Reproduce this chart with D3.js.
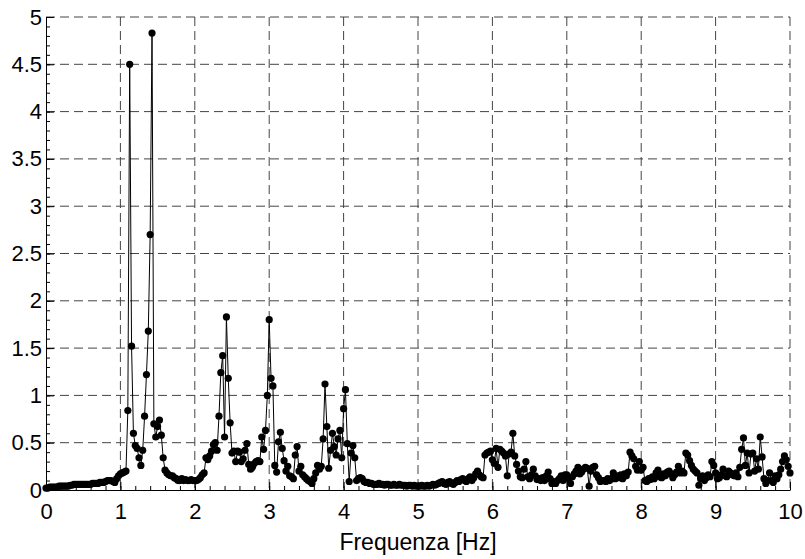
<!DOCTYPE html>
<html>
<head>
<meta charset="utf-8">
<script src="https://cdn.jsdelivr.net/npm/d3@7/dist/d3.min.js"></script>
<style>
  body { margin: 0; background: #fff; }
  text { font-family: "Liberation Sans", Arial, sans-serif; }
</style>
</head>
<body>
<div id="chart"></div>
<script>
// frequency step of the spectrum [Hz]
const freqStep = 0.025;

// amplitudes, one array per 1 Hz band (40 samples each)
const amp0 = [0.02,0.02,0.03,0.03,0.03,0.03,0.03,0.04,0.04,0.04,
              0.04,0.04,0.04,0.05,0.05,0.06,0.06,0.06,0.06,0.06,
              0.06,0.06,0.06,0.06,0.06,0.07,0.07,0.07,0.07,0.08,
              0.08,0.08,0.09,0.10,0.10,0.10,0.09,0.08,0.12,0.15];
const amp1 = [0.17,0.18,0.19,0.20,0.84,4.50,1.52,0.60,0.47,0.44,
              0.34,0.26,0.42,0.78,1.22,1.68,2.70,4.83,0.70,0.56,
              0.67,0.74,0.58,0.34,0.21,0.18,0.16,0.15,0.15,0.13,
              0.12,0.10,0.10,0.12,0.10,0.11,0.10,0.10,0.11,0.10];
const amp2 = [0.10,0.10,0.11,0.13,0.16,0.18,0.34,0.32,0.36,0.41,
              0.48,0.50,0.42,0.78,1.24,1.42,0.56,1.83,1.18,0.71,
              0.39,0.41,0.30,0.41,0.40,0.30,0.33,0.42,0.49,0.27,
              0.22,0.24,0.28,0.30,0.31,0.30,0.56,0.43,0.63,1.00];
const amp3 = [1.80,1.18,1.10,0.26,0.19,0.51,0.61,0.44,0.31,0.20,
              0.25,0.15,0.14,0.12,0.37,0.46,0.20,0.25,0.16,0.14,
              0.12,0.10,0.09,0.07,0.12,0.18,0.26,0.22,0.25,0.54,
              1.12,0.67,0.23,0.42,0.60,0.46,0.37,0.54,0.63,0.34];
const amp4 = [0.86,1.06,0.49,0.09,0.39,0.47,0.34,0.10,0.12,0.13,
              0.12,0.09,0.08,0.08,0.07,0.07,0.06,0.06,0.06,0.07,
              0.06,0.06,0.05,0.06,0.06,0.05,0.05,0.06,0.05,0.05,
              0.06,0.05,0.05,0.05,0.04,0.05,0.05,0.04,0.05,0.04];
const amp5 = [0.04,0.04,0.05,0.04,0.04,0.05,0.04,0.05,0.06,0.05,
              0.06,0.07,0.08,0.09,0.07,0.06,0.08,0.09,0.07,0.06,
              0.08,0.10,0.09,0.11,0.12,0.10,0.09,0.12,0.14,0.10,
              0.13,0.17,0.20,0.16,0.14,0.13,0.37,0.39,0.40,0.41];
const amp6 = [0.32,0.28,0.44,0.24,0.43,0.41,0.39,0.36,0.15,0.38,
              0.40,0.60,0.36,0.27,0.20,0.14,0.13,0.22,0.30,0.14,
              0.12,0.16,0.22,0.15,0.11,0.12,0.10,0.13,0.10,0.15,
              0.19,0.12,0.07,0.09,0.07,0.10,0.12,0.15,0.10,0.16];
const amp7 = [0.16,0.12,0.07,0.14,0.17,0.20,0.24,0.17,0.19,0.22,
              0.24,0.23,0.04,0.20,0.24,0.25,0.16,0.13,0.09,0.10,
              0.10,0.09,0.12,0.10,0.12,0.18,0.12,0.15,0.13,0.16,
              0.12,0.17,0.15,0.19,0.40,0.36,0.33,0.25,0.21,0.30];
const amp8 = [0.21,0.24,0.10,0.09,0.12,0.11,0.14,0.12,0.18,0.21,
              0.14,0.13,0.17,0.15,0.19,0.20,0.17,0.13,0.16,0.19,
              0.25,0.18,0.20,0.18,0.39,0.37,0.31,0.26,0.22,0.20,
              0.18,0.05,0.12,0.15,0.10,0.13,0.16,0.14,0.30,0.26];
const amp9 = [0.18,0.12,0.13,0.16,0.22,0.15,0.14,0.20,0.18,0.16,
              0.15,0.18,0.14,0.24,0.43,0.55,0.26,0.39,0.18,0.38,
              0.39,0.20,0.33,0.22,0.56,0.35,0.12,0.07,0.10,0.18,
              0.10,0.08,0.15,0.12,0.16,0.22,0.30,0.36,0.32,0.25];
const ampLast = [0.18];

const xTicks = [0, 1, 2, 3, 4, 5, 6, 7, 8, 9, 10];
const yTicks = [0, 0.5, 1, 1.5, 2, 2.5, 3, 3.5, 4, 4.5, 5];
const xLabel = "Frequenza [Hz]";

const amps = [].concat(amp0, amp1, amp2, amp3, amp4, amp5, amp6, amp7, amp8, amp9, ampLast);
const data = amps.map((a, i) => ({ f: i * freqStep, a: a }));

const width = 805, height = 559;
const margin = { top: 17, right: 15, bottom: 69, left: 46 };
const innerW = width - margin.left - margin.right;
const innerH = height - margin.top - margin.bottom;

const svg = d3.select("#chart").append("svg")
  .attr("width", width)
  .attr("height", height);

const g = svg.append("g")
  .attr("transform", `translate(${margin.left},${margin.top})`);

const x = d3.scaleLinear().domain([0, 10]).range([0, innerW]);
const y = d3.scaleLinear().domain([0, 5]).range([innerH, 0]);

// dashed grid
g.append("g").selectAll("line")
  .data(xTicks.filter(d => d > 0))
  .join("line")
  .attr("x1", d => x(d)).attr("x2", d => x(d))
  .attr("y1", 0).attr("y2", innerH)
  .attr("stroke", "#444").attr("stroke-dasharray", "9,5");

g.append("g").selectAll("line")
  .data(yTicks.filter(d => d > 0))
  .join("line")
  .attr("y1", d => y(d)).attr("y2", d => y(d))
  .attr("x1", 0).attr("x2", innerW)
  .attr("stroke", "#444").attr("stroke-dasharray", "9,5");

// minor ticks
const xMinor = d3.range(0, 10.001, 0.2).map(v => +v.toFixed(1));
const yMinor = d3.range(0, 5.001, 0.1).map(v => +v.toFixed(1));

g.append("g")
  .attr("transform", `translate(0,${innerH})`)
  .call(d3.axisBottom(x).tickValues(xMinor).tickSize(-4).tickFormat(""))
  .call(a => a.select(".domain").remove());

g.append("g")
  .call(d3.axisLeft(y).tickValues(yMinor).tickSize(-4).tickFormat(""))
  .call(a => a.select(".domain").remove());

// major axes
const xAxis = g.append("g")
  .attr("transform", `translate(0,${innerH})`)
  .call(d3.axisBottom(x).tickValues(xTicks).tickSize(-8).tickSizeOuter(0).tickPadding(13).tickFormat(d3.format("")));

const yAxis = g.append("g")
  .call(d3.axisLeft(y).tickValues(yTicks).tickSize(-8).tickSizeOuter(0).tickPadding(4).tickFormat(d3.format("")));

[xAxis, yAxis].forEach(a => {
  a.selectAll("text").attr("font-size", 22).attr("fill", "#000")
    .attr("font-family", "Liberation Sans, Arial, sans-serif");
  a.selectAll("line").attr("stroke", "#000");
  a.select(".domain").attr("stroke", "#000");
});

// axis title
svg.append("text")
  .attr("x", margin.left + innerW / 2)
  .attr("y", 550)
  .attr("text-anchor", "middle")
  .attr("font-size", 23)
  .attr("fill", "#000")
  .text(xLabel);

// spectrum line
g.append("path")
  .datum(data)
  .attr("fill", "none")
  .attr("stroke", "#000")
  .attr("stroke-width", 1)
  .attr("d", d3.line().x(d => x(d.f)).y(d => y(d.a)));

g.append("g").selectAll("circle")
  .data(data)
  .join("circle")
  .attr("cx", d => x(d.f))
  .attr("cy", d => y(d.a))
  .attr("r", 3.6)
  .attr("fill", "#000");
</script>
</body>
</html>
